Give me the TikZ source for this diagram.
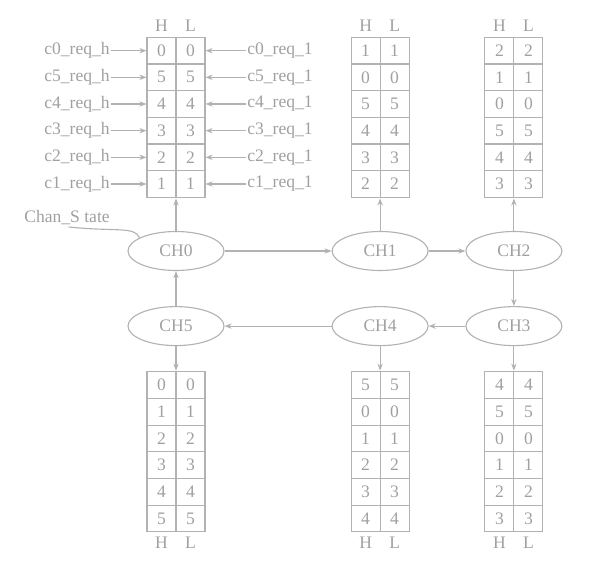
\documentclass[tikz,border=0pt]{standalone}
\usepackage{fontspec}
\setmainfont{Liberation Serif}
\usepackage{xcolor}
\definecolor{linegray}{HTML}{B2B2B2}
\definecolor{textgray}{HTML}{A0A0A0}
\usetikzlibrary{
  arrows.meta,
  positioning,
  shapes.geometric,
  matrix
}

\begin{document}
\begin{tikzpicture}[
  line width=0.95pt,
  font=\fontsize{15}{18}\selectfont,
  chan/.style={ellipse, draw=linegray, text=textgray, minimum width=2.88cm, minimum height=1.17cm, inner sep=0pt},
  cell/.style={rectangle, draw=linegray, text=textgray, minimum width=0.87cm, minimum height=0.8cm, inner sep=0pt},
  tab/.style={matrix of nodes, nodes={cell}, column sep=-\pgflinewidth, row sep=-\pgflinewidth, inner sep=0pt},
  lbl/.style={text=textgray, inner sep=1pt},
  arr/.style={-{Stealth[length=6pt, width=4.5pt]}, linegray},
  lin/.style={linegray},
]
\useasboundingbox (-5.28,-9.42) rectangle (12.54,7.53);

% Canales
\node[chan] (ch0) at (0,0) {CH0};
\node[chan, right=3.21cm of ch0] (ch1) {CH1};
\node[chan, right=1.1cm of ch1] (ch2) {CH2};
\node[chan, below=1.05cm of ch2] (ch3) {CH3};
\node[chan, below=1.05cm of ch1] (ch4) {CH4};
\node[chan, below=1.05cm of ch0] (ch5) {CH5};

% Tablas de prioridad
\matrix[tab, above=0.975cm of ch0] (t0) {
  0 & 0 \\ 5 & 5 \\ 4 & 4 \\ 3 & 3 \\ 2 & 2 \\ 1 & 1 \\
};
\matrix[tab, above=0.975cm of ch1] (t1) {
  1 & 1 \\ 0 & 0 \\ 5 & 5 \\ 4 & 4 \\ 3 & 3 \\ 2 & 2 \\
};
\matrix[tab, above=0.975cm of ch2] (t2) {
  2 & 2 \\ 1 & 1 \\ 0 & 0 \\ 5 & 5 \\ 4 & 4 \\ 3 & 3 \\
};
\matrix[tab, below=0.735cm of ch5] (t5) {
  0 & 0 \\ 1 & 1 \\ 2 & 2 \\ 3 & 3 \\ 4 & 4 \\ 5 & 5 \\
};
\matrix[tab, below=0.735cm of ch4] (t4) {
  5 & 5 \\ 0 & 0 \\ 1 & 1 \\ 2 & 2 \\ 3 & 3 \\ 4 & 4 \\
};
\matrix[tab, below=0.735cm of ch3] (t3) {
  4 & 4 \\ 5 & 5 \\ 0 & 0 \\ 1 & 1 \\ 2 & 2 \\ 3 & 3 \\
};

% Cabeceras H / L
\node[lbl, above=0.12cm of t0-1-1] (t0h) {H};
\node[lbl, above=0.12cm of t0-1-2] (t0l) {L};
\node[lbl, above=0.12cm of t1-1-1] (t1h) {H};
\node[lbl, above=0.12cm of t1-1-2] (t1l) {L};
\node[lbl, above=0.12cm of t2-1-1] (t2h) {H};
\node[lbl, above=0.12cm of t2-1-2] (t2l) {L};
\node[lbl, below=0.1cm of t5-6-1] (t5h) {H};
\node[lbl, below=0.1cm of t5-6-2] (t5l) {L};
\node[lbl, below=0.1cm of t4-6-1] (t4h) {H};
\node[lbl, below=0.1cm of t4-6-2] (t4l) {L};
\node[lbl, below=0.1cm of t3-6-1] (t3h) {H};
\node[lbl, below=0.1cm of t3-6-2] (t3l) {L};

% Peticiones
\node[lbl, left=1.05cm of t0-1-1] (h0) {c0\_req\_h};
\node[lbl, left=1.05cm of t0-2-1] (h5) {c5\_req\_h};
\node[lbl, left=1.05cm of t0-3-1] (h4) {c4\_req\_h};
\node[lbl, left=1.05cm of t0-4-1] (h3) {c3\_req\_h};
\node[lbl, left=1.05cm of t0-5-1] (h2) {c2\_req\_h};
\node[lbl, left=1.05cm of t0-6-1] (h1) {c1\_req\_h};
\node[lbl, right=1.2cm of t0-1-2] (l0) {c0\_req\_1};
\node[lbl, right=1.2cm of t0-2-2] (l5) {c5\_req\_1};
\node[lbl, right=1.2cm of t0-3-2] (l4) {c4\_req\_1};
\node[lbl, right=1.2cm of t0-4-2] (l3) {c3\_req\_1};
\node[lbl, right=1.2cm of t0-5-2] (l2) {c2\_req\_1};
\node[lbl, right=1.2cm of t0-6-2] (l1) {c1\_req\_1};

\draw[arr] (h0) -- (t0-1-1);
\draw[arr] (h5) -- (t0-2-1);
\draw[arr] (h4) -- (t0-3-1);
\draw[arr] (h3) -- (t0-4-1);
\draw[arr] (h2) -- (t0-5-1);
\draw[arr] (h1) -- (t0-6-1);
\draw[arr] (l0) -- (t0-1-2);
\draw[arr] (l5) -- (t0-2-2);
\draw[arr] (l4) -- (t0-3-2);
\draw[arr] (l3) -- (t0-4-2);
\draw[arr] (l2) -- (t0-5-2);
\draw[arr] (l1) -- (t0-6-2);

% Estado
\node[lbl] (cs) at (-3.27,0.99) {Chan\_S tate};
\draw[lin] ([xshift=0.05cm]cs.south) .. controls +(1.4,-0.15) and +(-0.15,0.35) .. (ch0.160);

% Anillo de canales
\draw[arr] (ch0) -- (ch1);
\draw[arr] (ch1) -- (ch2);
\draw[arr] (ch2) -- (ch3);
\draw[arr] (ch3) -- (ch4);
\draw[arr] (ch4) -- (ch5);
\draw[arr] (ch5) -- (ch0);

% Canal a tabla
\draw[arr] (ch0) -- (t0);
\draw[arr] (ch1) -- (t1);
\draw[arr] (ch2) -- (t2);
\draw[arr] (ch5) -- (t5);
\draw[arr] (ch4) -- (t4);
\draw[arr] (ch3) -- (t3);

\end{tikzpicture}
\end{document}
